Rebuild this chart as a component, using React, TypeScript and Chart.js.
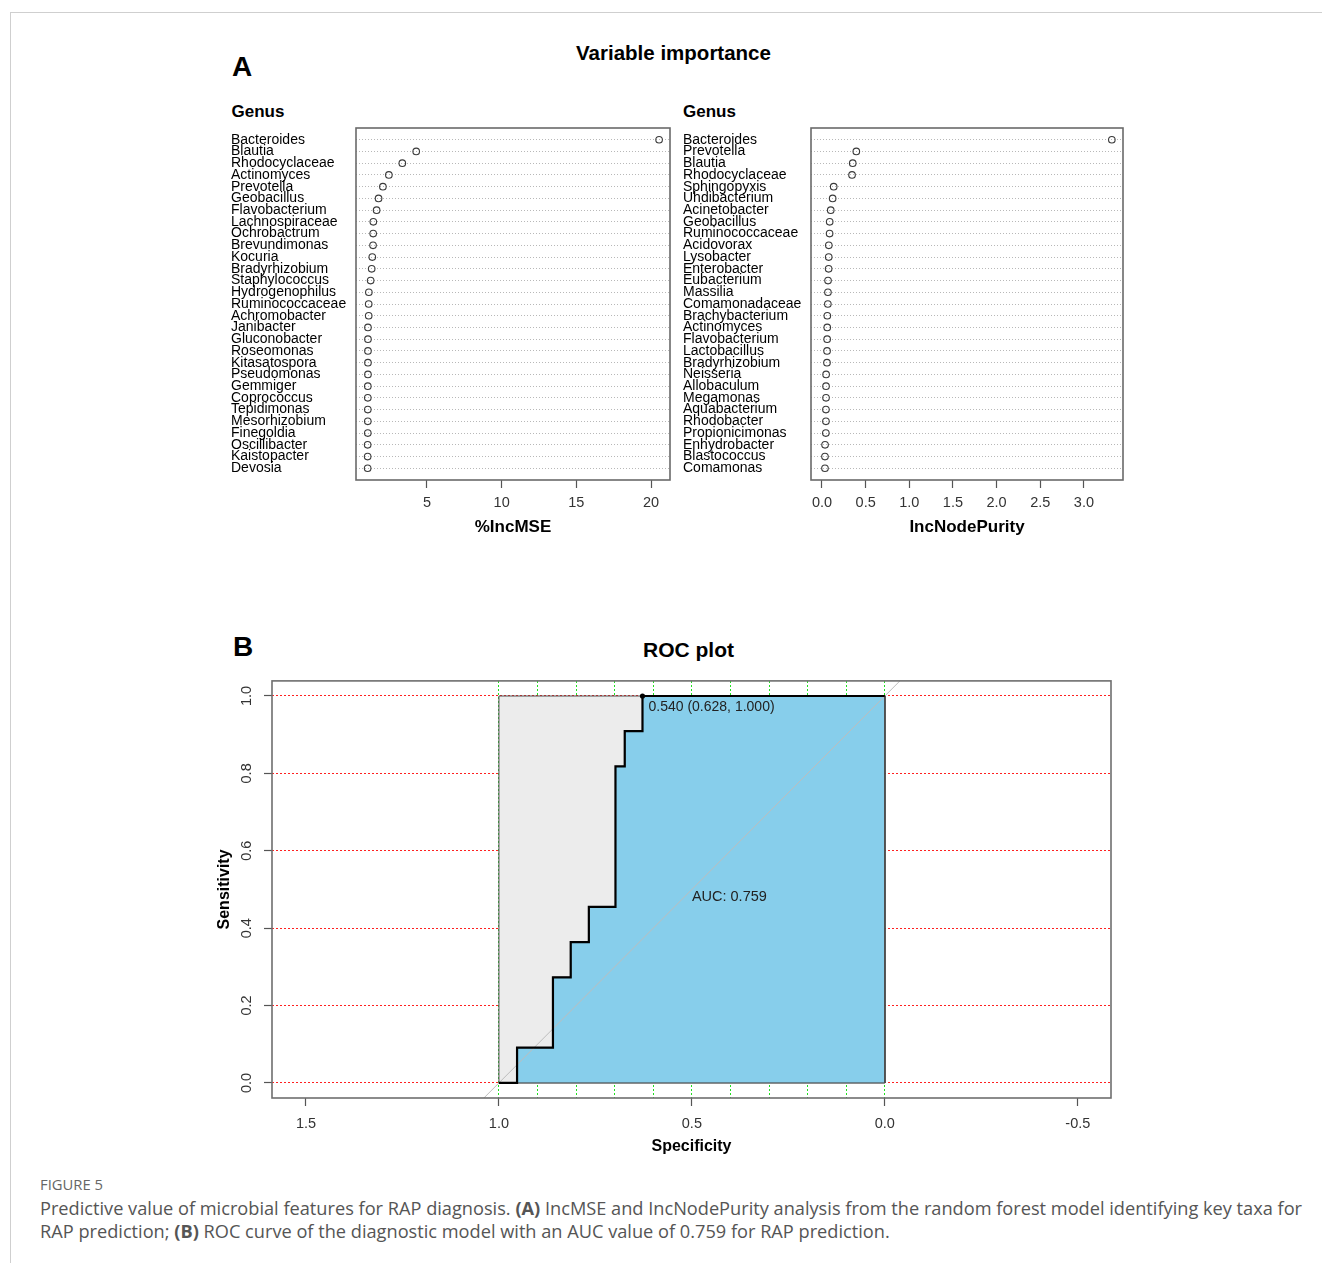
import React, { useEffect, useRef } from 'react';
import { Chart, registerables } from 'chart.js';

Chart.register(...registerables);

const FONT = '"Liberation Sans", Arimo, Arial, Helvetica, sans-serif';
const CAPTION_FONT = '"Open Sans", "Noto Sans", sans-serif';

// ---------- Panel A (left): %IncMSE ----------
const incMseGenus = [
  'Bacteroides', 'Blautia', 'Rhodocyclaceae', 'Actinomyces', 'Prevotella', 'Geobacillus',
  'Flavobacterium', 'Lachnospiraceae', 'Ochrobactrum', 'Brevundimonas', 'Kocuria',
  'Bradyrhizobium', 'Staphylococcus', 'Hydrogenophilus', 'Ruminococcaceae', 'Achromobacter',
  'Janibacter', 'Gluconobacter', 'Roseomonas', 'Kitasatospora', 'Pseudomonas', 'Gemmiger',
  'Coprococcus', 'Tepidimonas', 'Mesorhizobium', 'Finegoldia', 'Oscillibacter', 'Kaistopacter',
  'Devosia',
];
const incMseValues = [
  20.54, 4.28, 3.35, 2.45, 2.05, 1.76, 1.63, 1.41, 1.40, 1.39, 1.34, 1.30, 1.23, 1.11, 1.10,
  1.10, 1.05, 1.05, 1.05, 1.05, 1.05, 1.04, 1.04, 1.04, 1.04, 1.04, 1.03, 1.03, 1.03,
];
const incMseTicks = [5, 10, 15, 20];
const incMseRange = [0.25, 21.27];

// ---------- Panel A (right): IncNodePurity ----------
const nodePurityGenus = [
  'Bacteroides', 'Prevotella', 'Blautia', 'Rhodocyclaceae', 'Sphingopyxis', 'Uhdibacterium',
  'Acinetobacter', 'Geobacillus', 'Ruminococcaceae', 'Acidovorax', 'Lysobacter', 'Enterobacter',
  'Eubacterium', 'Massilia', 'Comamonadaceae', 'Brachybacterium', 'Actinomyces', 'Flavobacterium',
  'Lactobacillus', 'Bradyrhizobium', 'Neisseria', 'Allobaculum', 'Megamonas', 'Aquabacterium',
  'Rhodobacter', 'Propionicimonas', 'Enhydrobacter', 'Blastococcus', 'Comamonas',
];
const nodePurityValues = [
  3.32, 0.393, 0.352, 0.344, 0.134, 0.122, 0.100, 0.088, 0.087, 0.078, 0.077, 0.076, 0.069,
  0.068, 0.067, 0.061, 0.060, 0.059, 0.058, 0.057, 0.047, 0.046, 0.046, 0.045, 0.045, 0.044,
  0.035, 0.034, 0.034,
];
const nodePurityTicks = [0, 0.5, 1.0, 1.5, 2.0, 2.5, 3.0];
const nodePurityRange = [-0.126, 3.448];

// ---------- Panel B: ROC ----------
const rocSpecificity = [1.0, 0.953, 0.953, 0.860, 0.860, 0.814, 0.814, 0.767, 0.767, 0.698, 0.698, 0.674, 0.674, 0.628, 0.628, 0.0];
const rocSensitivity = [0.0, 0.0, 0.091, 0.091, 0.273, 0.273, 0.364, 0.364, 0.455, 0.455, 0.818, 0.818, 0.909, 0.909, 1.0, 1.0];
const maxAucSpec = [1, 1, 0, 0, 1];
const maxAucSens = [0, 1, 1, 0, 0];
const aucClosureSpec = [0];
const aucClosureSens = [0];
const chanceSpec = [1.6, -0.6];
const chanceSens = [-0.6, 1.6];
const bestThreshold = 0.54;
const bestSpec = 0.628;
const bestSens = 1.0;
const aucValue = 0.759;
const rocXTicks = [1.5, 1.0, 0.5, 0.0, -0.5];
const rocYTicks = [0.0, 0.2, 0.4, 0.6, 0.8, 1.0];
const rocGridSpec = [1.0, 0.9, 0.8, 0.7, 0.6, 0.5, 0.4, 0.3, 0.2, 0.1, 0.0];
const rocXRange = [-0.586, 1.588];
const rocYRange = [-0.039, 1.039];

const framePlugin = (color: string, width: number) => ({
  id: 'frame',
  afterDraw(chart: any) {
    const { ctx, chartArea: a } = chart;
    ctx.save();
    ctx.strokeStyle = color;
    ctx.lineWidth = width;
    ctx.strokeRect(a.left, a.top, a.right - a.left, a.bottom - a.top);
    ctx.restore();
  },
});

function dotChartConfig(
  genus: string[], values: number[], ticks: number[], range: number[],
  title: string, yAxisWidth: number, decimals: number,
): any {
  const n = genus.length;
  return {
    type: 'scatter',
    data: {
      datasets: [{
        data: values.map((v, i) => ({ x: v, y: n - i })),
        pointStyle: 'circle',
        pointRadius: 3.3,
        pointHoverRadius: 3.3,
        pointBorderWidth: 1.1,
        pointBorderColor: '#3a3a3a',
        pointBackgroundColor: 'rgba(255,255,255,0)',
      }],
    },
    options: {
      responsive: false,
      animation: false,
      events: [],
      layout: { padding: { left: 6, top: 9, right: 15, bottom: 0 } },
      plugins: { legend: { display: false }, tooltip: { enabled: false } },
      scales: {
        x: {
          type: 'linear',
          min: range[0],
          max: range[1],
          afterBuildTicks: (s: any) => { s.ticks = ticks.map((v) => ({ value: v })); },
          afterFit: (s: any) => { s.height = 58; },
          grid: { drawOnChartArea: false, drawTicks: true, tickLength: 8, tickColor: '#555', tickWidth: 1.2 },
          border: { display: false },
          ticks: {
            autoSkip: false, maxRotation: 0, padding: 6, color: '#333',
            font: { family: FONT, size: 14.5 },
            callback: (v: any) => Number(v).toFixed(decimals),
          },
          title: { display: true, text: title, color: '#000', padding: 0, font: { family: FONT, size: 17, weight: 'bold' } },
        },
        y: {
          type: 'linear',
          min: 0,
          max: n + 1,
          afterBuildTicks: (s: any) => { s.ticks = genus.map((_, i) => ({ value: n - i })); },
          afterFit: (s: any) => { s.width = yAxisWidth; },
          grid: { drawTicks: false, color: '#b8b8b8', lineWidth: 1 },
          border: { display: false, dash: [1, 2] },
          ticks: {
            autoSkip: false, crossAlign: 'far', padding: 0, color: '#000',
            font: { family: FONT, size: 14 },
            callback: (v: any) => genus[n - Number(v)],
          },
        },
      },
    },
    plugins: [framePlugin('#6a6a6a', 1.6)],
  };
}

const rocTextPlugin = {
  id: 'rocText',
  afterDatasetsDraw(chart: any) {
    const { ctx } = chart;
    const x = chart.scales.x;
    const y = chart.scales.y;
    ctx.save();
    ctx.fillStyle = '#222';
    ctx.textAlign = 'left';
    ctx.textBaseline = 'middle';
    ctx.font = `14px ${FONT}`;
    ctx.fillText(
      `${bestThreshold.toFixed(3)} (${bestSpec.toFixed(3)}, ${bestSens.toFixed(3)})`,
      x.getPixelForValue(bestSpec) + 6, y.getPixelForValue(bestSens) + 10.7,
    );
    ctx.font = `14.5px ${FONT}`;
    ctx.fillText(`AUC: ${aucValue.toFixed(3)}`, x.getPixelForValue(0.5), y.getPixelForValue(0.5) + 7.2);
    ctx.restore();
  },
};

function rocConfig(): any {
  const pts = (xs: number[], ys: number[]) => xs.map((s, i) => ({ x: s, y: ys[i] }));
  const roc = pts(rocSpecificity, rocSensitivity);
  const base = { xAxisID: 'x', yAxisID: 'y', pointRadius: 0, pointHoverRadius: 0, tension: 0 };
  return {
    type: 'line',
    data: {
      datasets: [
        { ...base, data: pts(maxAucSpec, maxAucSens), fill: 'shape', backgroundColor: '#ECECEC', borderColor: '#4d4d4d', borderWidth: 1, order: 5 },
        { ...base, data: [...roc, ...pts(aucClosureSpec, aucClosureSens), roc[0]], fill: 'shape', backgroundColor: '#87CEEB', borderColor: '#4d4d4d', borderWidth: 1, order: 4 },
        { ...base, data: pts(chanceSpec, chanceSens), fill: false, borderColor: '#bdbdbd', borderWidth: 1, order: 3 },
        { ...base, data: roc, fill: false, borderColor: '#000', borderWidth: 2.2, order: 2 },
        { ...base, data: [{ x: bestSpec, y: bestSens }], showLine: false, pointRadius: 2.6, pointBackgroundColor: '#000', pointBorderColor: '#000', pointBorderWidth: 0, order: 1 },
      ],
    },
    options: {
      responsive: false,
      animation: false,
      events: [],
      layout: { padding: { left: 0, top: 0, right: 19, bottom: 0 } },
      plugins: { legend: { display: false }, tooltip: { enabled: false } },
      scales: {
        x: {
          type: 'linear', axis: 'x', position: 'bottom', reverse: true,
          min: rocXRange[0], max: rocXRange[1],
          afterBuildTicks: (s: any) => { s.ticks = rocXTicks.map((v) => ({ value: v })); },
          afterFit: (s: any) => { s.height = 58; },
          grid: { drawOnChartArea: false, drawTicks: true, tickLength: 8, tickColor: '#555', tickWidth: 1.2 },
          border: { display: false },
          ticks: {
            autoSkip: false, maxRotation: 0, padding: 9.3, color: '#333',
            font: { family: FONT, size: 14.5 },
            callback: (v: any) => Number(v).toFixed(1),
          },
          title: { display: true, text: 'Specificity', color: '#000', padding: 0, font: { family: FONT, size: 16, weight: 'bold' } },
        },
        xg: {
          type: 'linear', axis: 'x', position: 'top', reverse: true,
          min: rocXRange[0], max: rocXRange[1],
          afterBuildTicks: (s: any) => { s.ticks = rocGridSpec.map((v) => ({ value: v })); },
          afterFit: (s: any) => { s.height = 0; },
          grid: { drawOnChartArea: true, drawTicks: false, color: '#1fe01f', lineWidth: 1 },
          border: { display: false, dash: [2, 2] },
          ticks: { display: false },
        },
        y: {
          type: 'linear', position: 'left',
          min: rocYRange[0], max: rocYRange[1],
          afterBuildTicks: (s: any) => { s.ticks = rocYTicks.map((v) => ({ value: v })); },
          afterFit: (s: any) => { s.width = 72; },
          grid: { drawOnChartArea: true, drawTicks: true, tickLength: 8, color: '#ff2020', tickColor: '#555', tickWidth: 1.2, lineWidth: 1 },
          border: { display: false, dash: [2, 2] },
          ticks: {
            autoSkip: false, minRotation: 90, maxRotation: 90, crossAlign: 'center', padding: 7.2, color: '#333',
            font: { family: FONT, size: 14.5 },
            callback: (v: any) => Number(v).toFixed(1),
          },
          title: { display: true, text: 'Sensitivity', color: '#000', padding: { top: 15.4, bottom: 0 }, font: { family: FONT, size: 16, weight: 'bold' } },
        },
      },
    },
    plugins: [rocTextPlugin, framePlugin('#6e6e6e', 1.6)],
  };
}

function ChartCanvas({ left, top, width, height, makeConfig }: any) {
  const ref = useRef<HTMLCanvasElement>(null);
  useEffect(() => {
    const chart = new Chart(ref.current as HTMLCanvasElement, makeConfig());
    return () => chart.destroy();
  }, []);
  return (
    <canvas
      ref={ref}
      width={width}
      height={height}
      style={{ position: 'absolute', left, top, width, height }}
    />
  );
}

function Txt({ x, y, children, size, bold, align = 'left', font = FONT, color = '#000' }: any) {
  return (
    <div
      style={{
        position: 'absolute', left: x, top: y,
        transform: `translate(${align === 'center' ? '-50%' : '0'}, -50%)`,
        fontFamily: font, fontSize: size, fontWeight: bold ? 'bold' : 'normal',
        lineHeight: 1, whiteSpace: 'nowrap', color,
      }}
    >
      {children}
    </div>
  );
}

export default function App() {
  return (
    <div style={{ position: 'absolute', left: 0, top: 0, width: 1322, height: 1263, background: '#fff', overflow: 'hidden' }}>
      <div style={{ position: 'absolute', left: 10, top: 12, width: 1320, height: 1260, borderTop: '1.5px solid #cfcfcf', borderLeft: '1.5px solid #cfcfcf' }} />

      <Txt x={232} y={66.7} size={28} bold>A</Txt>
      <Txt x={673.5} y={53} size={20.5} bold align="center">Variable importance</Txt>
      <Txt x={231.5} y={111} size={17} bold>Genus</Txt>
      <Txt x={683} y={111} size={17} bold>Genus</Txt>

      <ChartCanvas
        left={225} top={119} width={460} height={419}
        makeConfig={() => dotChartConfig(incMseGenus, incMseValues, incMseTicks, incMseRange, '%IncMSE', 125, 0)}
      />
      <ChartCanvas
        left={677} top={119} width={461} height={419}
        makeConfig={() => dotChartConfig(nodePurityGenus, nodePurityValues, nodePurityTicks, nodePurityRange, 'IncNodePurity', 128, 1)}
      />

      <Txt x={233} y={647} size={28} bold>B</Txt>
      <Txt x={688.5} y={648.5} size={21} bold align="center">ROC plot</Txt>

      <ChartCanvas left={200} top={665} width={930} height={491} makeConfig={rocConfig} />

      <Txt x={40} y={1184} size={14.8} font={CAPTION_FONT} color="#666">FIGURE 5</Txt>
      <Txt x={40} y={1208} size={18.2} font={CAPTION_FONT} color="#555">
        Predictive value of microbial features for RAP diagnosis. <b>(A)</b> IncMSE and IncNodePurity analysis from the random forest model identifying key taxa for
      </Txt>
      <Txt x={40} y={1231} size={18.2} font={CAPTION_FONT} color="#555">
        RAP prediction; <b>(B)</b> ROC curve of the diagnostic model with an AUC value of 0.759 for RAP prediction.
      </Txt>
    </div>
  );
}
